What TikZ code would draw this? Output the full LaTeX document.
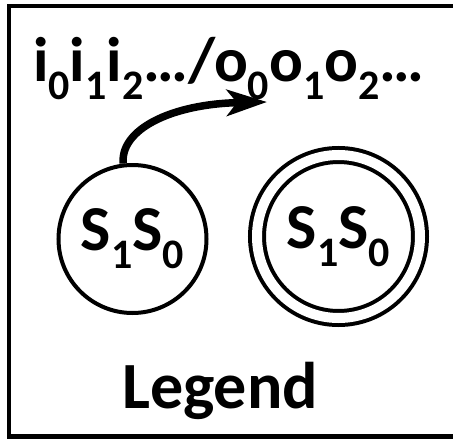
\documentclass[tikz,border=0pt]{standalone}
\usepackage{fontspec}
\setmainfont{Carlito}
\usetikzlibrary{arrows.meta}

% subscript set in a smaller size, lowered below the baseline
\newcommand\lowidx[1]{\raisebox{-18pt}{\fontsize{42pt}{42pt}\selectfont #1}}

\tikzset{
  bigfont/.style={font=\fontsize{64pt}{64pt}\selectfont\bfseries},
  txt/.style={bigfont, inner sep=0pt},
  state/.style={circle, draw, line width=4pt, minimum size=148pt, inner sep=0pt, bigfont},
  accept/.style={state, double, double distance=10pt, minimum size=163pt},
  trans/.style={line width=7.5pt, -{Stealth[length=40pt 0, width=26pt 0, inset=10pt 0]}},
}

\begin{document}
\begin{tikzpicture}[x=1pt, y=-1pt]
  \useasboundingbox (0,0) rectangle (453,439);
  \begin{scope}
    \clip (0,0) rectangle (453,439);
    \draw[line width=4.5pt] (9,6) rectangle (470,436.5);
  \end{scope}

  \node[txt, anchor=base west, font=\fontsize{63pt}{63pt}\selectfont\bfseries] (io) at (33,81)
    {i\lowidx{0}i\lowidx{1}i\lowidx{2}…/o\lowidx{0}o\lowidx{1}o\lowidx{2}…};

  \node[state] (plain) at (132.5,239) {S\lowidx{1}S\lowidx{0}};
  \node[accept] (final) at (338.5,236.5) {S\lowidx{1}S\lowidx{0}};

  \coordinate (tip) at (267,102);
  \draw[trans] (plain.97) .. controls (120,130) and (170,104) .. (tip);

  \node[txt, anchor=base, font=\fontsize{66pt}{66pt}\selectfont\bfseries] (legend) at (220,408) {Legend};
\end{tikzpicture}
\end{document}
